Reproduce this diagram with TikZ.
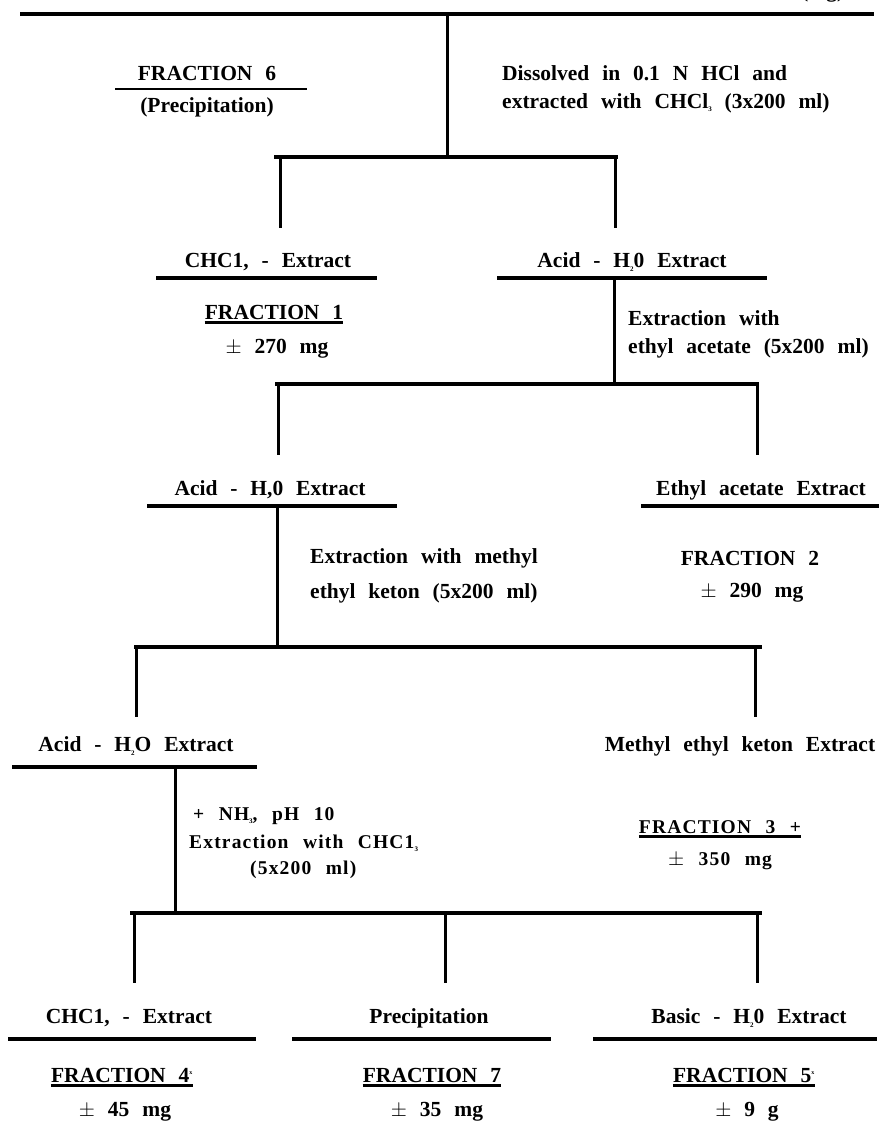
\documentclass[tikz,border=0pt]{standalone}
\usepackage{fontspec}
\setmainfont{Liberation Serif}[WordSpace=2.4]
\newfontfamily\wideserif{Liberation Serif}[WordSpace=2.4, LetterSpace=6]
\usetikzlibrary{calc}
\newcommand{\sbs}[1]{\raisebox{-0.35ex}{\fontsize{7}{7}\selectfont #1}}
\tikzset{
  lbl/.style={font=\bfseries\fontsize{21.5}{24}\selectfont, inner sep=0pt},
  wlbl/.style={font=\wideserif\bfseries\fontsize{19.5}{23}\selectfont, inner sep=0pt},
  bar/.style={line width=4pt},
  stem/.style={line width=3pt},
  uline/.style={line width=2.8pt},
}
\begin{document}
\begin{tikzpicture}[x=1pt,y=-1pt]
\useasboundingbox (0,0) rectangle (882,1121);
\clip (0,0) rectangle (882,1121);

% ---------- level 0 ----------
\node[lbl, anchor=base west] (unit) at (801,-2) {(mg)};
\coordinate (t-l) at (20,14);
\coordinate (t-r) at (874,14);
\coordinate (s0-a) at (447,14);
\coordinate (s0-b) at (447,157);
\draw[bar] (t-l) -- (t-r);
\draw[stem] (s0-a) -- (s0-b);

\node[lbl] (f6) at (207,73) {FRACTION 6};
\coordinate (f6-l) at (115,89);
\coordinate (f6-r) at (307,89);
\draw[uline] (f6-l) -- (f6-r);
\node[lbl] (f6b) at (207,107) {(Precipitation)};

\node[lbl, anchor=west] (d1) at (502,73) {Dissolved in 0.1 N HCl and};
\node[lbl, anchor=west] (d2) at (502,103) {extracted with CHCl\sbs{3} (3x200 ml)};

% ---------- level 1 ----------
\coordinate (b1-l) at (274,157);
\coordinate (b1-r) at (618,157);
\draw[bar] (b1-l) -- (b1-r);
\coordinate (v1l-a) at (280,157);
\coordinate (v1l-b) at (280,228);
\coordinate (v1r-a) at (615,157);
\coordinate (v1r-b) at (615,228);
\draw[stem] (v1l-a) -- (v1l-b);
\draw[stem] (v1r-a) -- (v1r-b);

\node[lbl] (c1) at (268,262) {CHC1, - Extract};
\coordinate (c1-l) at (156,278);
\coordinate (c1-r) at (377,278);
\draw[bar] (c1-l) -- (c1-r);
\node[lbl] (fr1) at (274,312) {FRACTION 1};
\draw[uline] ($(fr1.south west)+(0,3)$) -- ($(fr1.south east)+(0,3)$);
\node[lbl] (m1) at (277,349) {$\pm$ 270 mg};

\node[lbl] (a1) at (632,262) {Acid - H\sbs{2}0 Extract};
\coordinate (a1-l) at (497,278);
\coordinate (a1-r) at (767,278);
\draw[bar] (a1-l) -- (a1-r);
\coordinate (s1-a) at (614,278);
\coordinate (s1-b) at (614,384);
\draw[stem] (s1-a) -- (s1-b);
\node[lbl, anchor=west] (e1) at (628,318) {Extraction with};
\node[lbl, anchor=west] (e2) at (628,348) {ethyl acetate (5x200 ml)};

% ---------- level 2 ----------
\coordinate (b2-l) at (275,384);
\coordinate (b2-r) at (759,384);
\draw[bar] (b2-l) -- (b2-r);
\coordinate (v2l-a) at (278,384);
\coordinate (v2l-b) at (278,455);
\coordinate (v2r-a) at (757,384);
\coordinate (v2r-b) at (757,455);
\draw[stem] (v2l-a) -- (v2l-b);
\draw[stem] (v2r-a) -- (v2r-b);

\node[lbl] (a2) at (270,490) {Acid - H,0 Extract};
\coordinate (a2-l) at (147,506);
\coordinate (a2-r) at (397,506);
\draw[bar] (a2-l) -- (a2-r);
\coordinate (s2-a) at (277,506);
\coordinate (s2-b) at (277,647);
\draw[stem] (s2-a) -- (s2-b);
\node[lbl, anchor=west] (e3) at (310,558) {Extraction with methyl};
\node[lbl, anchor=west] (e4) at (310,593) {ethyl keton (5x200 ml)};

\node[lbl] (ea) at (761,490) {Ethyl acetate Extract};
\coordinate (ea-l) at (641,506);
\coordinate (ea-r) at (879,506);
\draw[bar] (ea-l) -- (ea-r);
\node[lbl] (fr2) at (750,558) {FRACTION 2};
\node[lbl] (m2) at (752,593) {$\pm$ 290 mg};

% ---------- level 3 ----------
\coordinate (b3-l) at (134,647);
\coordinate (b3-r) at (762,647);
\draw[bar] (b3-l) -- (b3-r);
\coordinate (v3l-a) at (136,647);
\coordinate (v3l-b) at (136,717);
\coordinate (v3r-a) at (755,647);
\coordinate (v3r-b) at (755,717);
\draw[stem] (v3l-a) -- (v3l-b);
\draw[stem] (v3r-a) -- (v3r-b);

\node[lbl] (a3) at (136,746) {Acid - H\sbs{2}O Extract};
\coordinate (a3-l) at (12,767);
\coordinate (a3-r) at (257,767);
\draw[bar] (a3-l) -- (a3-r);
\coordinate (s3-a) at (175,767);
\coordinate (s3-b) at (175,913);
\draw[stem] (s3-a) -- (s3-b);
\node[wlbl, anchor=west] (n1) at (193,816) {+ NH\sbs{3}, pH 10};
\node[wlbl, anchor=west] (n2) at (189,843) {Extraction with CHC1\sbs{3}};
\node[wlbl, anchor=west] (n3) at (250,870) {(5x200 ml)};

\node[lbl] (mk) at (740,746) {Methyl ethyl keton Extract};
\node[wlbl] (fr3) at (720,827) {FRACTION 3 +};
\draw[uline] ($(fr3.south west)+(0,3)$) -- ($(fr3.south east)+(0,3)$);
\node[wlbl] (m3) at (720,861) {$\pm$ 350 mg};

% ---------- level 4 ----------
\coordinate (b4-l) at (130,913);
\coordinate (b4-r) at (762,913);
\draw[bar] (b4-l) -- (b4-r);
\coordinate (v4a-a) at (134,913);
\coordinate (v4a-b) at (134,983);
\coordinate (v4b-a) at (445,913);
\coordinate (v4b-b) at (445,983);
\coordinate (v4c-a) at (757,913);
\coordinate (v4c-b) at (757,983);
\draw[stem] (v4a-a) -- (v4a-b);
\draw[stem] (v4b-a) -- (v4b-b);
\draw[stem] (v4c-a) -- (v4c-b);

\node[lbl] (c4) at (129,1018) {CHC1, - Extract};
\coordinate (c4-l) at (8,1039);
\coordinate (c4-r) at (256,1039);
\draw[bar] (c4-l) -- (c4-r);
\node[lbl] (fr4) at (122,1075) {FRACTION 4\textsuperscript{\fontsize{6}{6}\selectfont x}};
\draw[uline] ($(fr4.south west)+(0,3)$) -- ($(fr4.south east)+(0,3)$);
\node[lbl] (m4) at (125,1112) {$\pm$ 45 mg};

\node[lbl] (pr) at (429,1018) {Precipitation};
\coordinate (pr-l) at (292,1039);
\coordinate (pr-r) at (551,1039);
\draw[bar] (pr-l) -- (pr-r);
\node[lbl] (fr7) at (432,1075) {FRACTION 7};
\draw[uline] ($(fr7.south west)+(0,3)$) -- ($(fr7.south east)+(0,3)$);
\node[lbl] (m7) at (437,1112) {$\pm$ 35 mg};

\node[lbl] (bb) at (749,1018) {Basic - H\sbs{2}0 Extract};
\coordinate (bb-l) at (593,1039);
\coordinate (bb-r) at (877,1039);
\draw[bar] (bb-l) -- (bb-r);
\node[lbl] (fr5) at (744,1075) {FRACTION 5\textsuperscript{\fontsize{6}{6}\selectfont x}};
\draw[uline] ($(fr5.south west)+(0,3)$) -- ($(fr5.south east)+(0,3)$);
\node[lbl] (m5) at (747,1112) {$\pm$ 9 g};
\end{tikzpicture}
\end{document}
